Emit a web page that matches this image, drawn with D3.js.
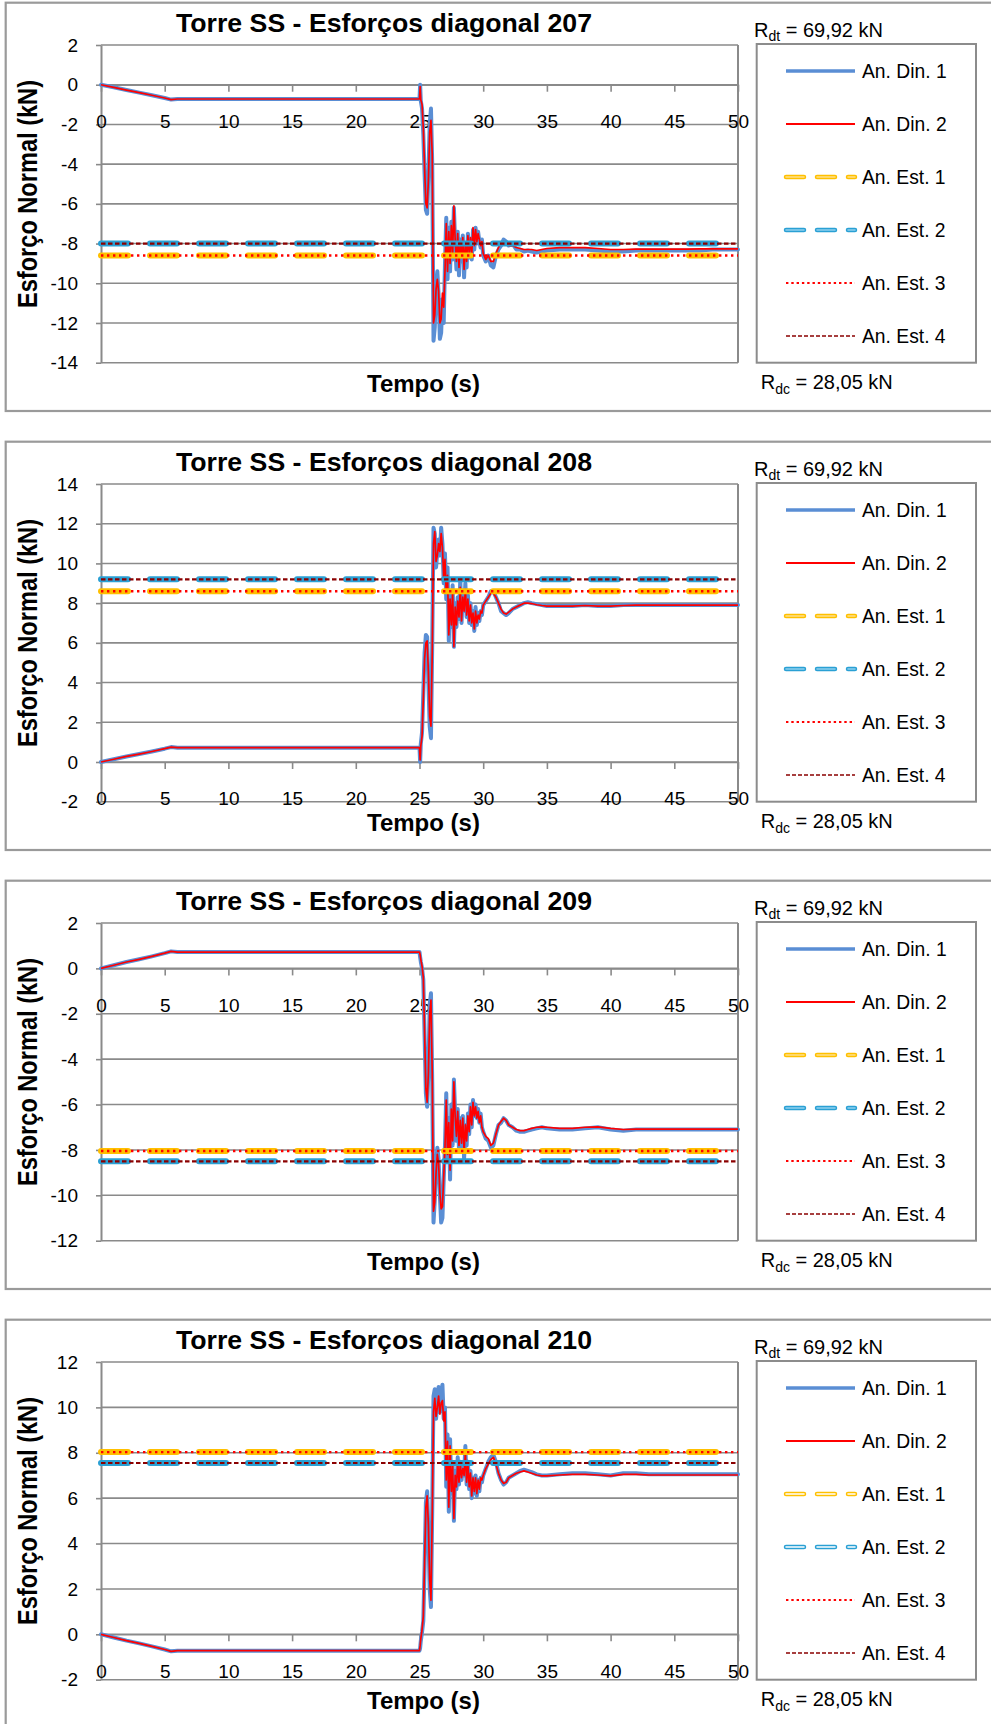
<!DOCTYPE html>
<html>
<head>
<meta charset="utf-8">
<script src="https://cdn.jsdelivr.net/npm/d3@7"></script>
<style>
  body { margin: 0; background: #fff; }
  svg { display: block; font-family: "Liberation Sans", Arial, Helvetica, sans-serif; }
</style>
</head>
<body>
<svg id="chart" width="991" height="1724"></svg>
<script>
// ---- Data -------------------------------------------------------------
const diagonais = ["207", "208", "209", "210"];
const yLimites = [[-14, 2], [-2, 14], [-12, 2], [-2, 12]];
const xTicks = [0, 5, 10, 15, 20, 25, 30, 35, 40, 45, 50];

// static analyses (kN), one value per diagonal
const anEst1 = [-8.6, 8.6, -8.05, 8.03];
const anEst2 = [-8.0, 9.2, -8.5, 7.55];
const anEst3 = [-8.6, 8.6, -8.05, 8.03];
const anEst4 = [-8.0, 9.2, -8.5, 7.55];

const legenda = ["An. Din. 1", "An. Din. 2", "An. Est. 1", "An. Est. 2", "An. Est. 3", "An. Est. 4"];
const titulos = diagonais.map(d => "Torre SS - Esforços diagonal " + d);

// time samples (s) shared by every dynamic series
const tempo = [
  0, 1, 2, 3, 4, 5, 5.5, 6, 10, 15, 20,
  24.9, 25.0, 25.05,
  25.1, 25.2, 25.3, 25.4, 25.5, 25.6, 25.7, 25.8, 25.9, 26.0,
  26.1, 26.2, 26.3, 26.4, 26.5, 26.6, 26.7, 26.8, 26.9, 27.0,
  27.1, 27.2, 27.3, 27.4, 27.5, 27.6, 27.7, 27.8, 27.9, 28.0,
  28.1, 28.2, 28.3, 28.4, 28.5, 28.6, 28.7, 28.8, 28.9, 29.0,
  29.1, 29.2, 29.3, 29.4, 29.5, 29.6, 29.7, 29.8, 29.9, 30.0,
  30.2, 30.4, 30.6, 30.8, 31.0, 31.2, 31.4, 31.6, 31.8, 32.0,
  32.3, 32.6, 32.9, 33.2, 33.5, 33.8, 34.2, 34.6,
  35, 36, 37, 38, 39, 40, 41, 42, 43, 44, 45, 46, 47, 48, 49, 50
];

// diagonal 207
const din1_207 = [
  0, -0.13, -0.27, -0.40, -0.53, -0.67, -0.75, -0.72, -0.72, -0.72, -0.72,
  -0.72, -0.72, 0.0,
  -0.8, -1.2, -2.5, -4.5, -6.3, -6.5, -4.5, -2.0, -1.2, -4.0,
  -12.9, -12.2, -10.0, -9.4, -10.6, -12.8, -12.5, -10.8, -12.0, -9.0,
  -6.7, -9.8, -7.2, -9.4, -6.9, -8.8, -6.2, -8.0, -9.3, -7.4,
  -9.6, -7.8, -8.9, -7.6, -9.7, -8.1, -9.2, -7.5, -8.7, -7.8,
  -8.8, -7.3, -8.3, -7.2, -8.0, -7.4, -7.9, -8.2, -7.8, -8.6,
  -8.9, -8.6, -9.1, -9.2, -8.6, -8.3, -8.1, -7.8, -7.9, -8.1,
  -8.0, -8.3, -8.3, -8.4, -8.35, -8.4, -8.45, -8.4,
  -8.35, -8.3, -8.3, -8.3, -8.35, -8.4, -8.4, -8.35, -8.35, -8.35, -8.35, -8.35, -8.35, -8.3, -8.3, -8.3
];
const din2_207 = [
  0, -0.13, -0.27, -0.40, -0.53, -0.67, -0.75, -0.72, -0.72, -0.72, -0.72,
  -0.72, -0.72, -0.1,
  -0.75, -1.0, -2.2, -4.2, -6.0, -6.2, -4.8, -2.4, -1.8, -3.5,
  -12.0, -11.6, -10.3, -9.8, -10.4, -12.0, -11.8, -10.5, -11.2, -9.4,
  -7.0, -9.4, -7.4, -9.0, -7.1, -8.5, -6.1, -7.8, -8.9, -7.5,
  -9.2, -7.9, -8.7, -7.7, -9.3, -8.0, -8.9, -7.6, -8.5, -7.7,
  -8.6, -7.2, -8.1, -7.3, -7.9, -7.5, -7.8, -8.1, -7.9, -8.5,
  -8.8, -8.6, -8.9, -8.9, -8.5, -8.2, -8.0, -7.9, -8.0, -8.1,
  -8.1, -8.2, -8.25, -8.3, -8.3, -8.3, -8.35, -8.3,
  -8.25, -8.2, -8.2, -8.2, -8.25, -8.3, -8.3, -8.28, -8.28, -8.28, -8.28, -8.28, -8.27, -8.27, -8.27, -8.27
];

// diagonal 208
const din1_208 = [
  0, 0.14, 0.28, 0.40, 0.53, 0.67, 0.75, 0.72, 0.72, 0.72, 0.72,
  0.72, 0.72, 0.0,
  0.9, 1.5, 3.5, 5.5, 6.4, 6.3, 4.0, 1.8, 1.2, 6.0,
  11.8, 11.5, 9.8, 10.6, 11.2, 10.4, 11.8, 11.0, 9.0, 10.5,
  8.2, 9.8, 6.1, 8.4, 6.8, 8.9, 5.8, 8.0, 6.8, 8.3,
  7.2, 9.2, 7.0, 8.5, 7.6, 9.0, 7.3, 8.4, 7.0, 8.0,
  6.9, 7.6, 6.6, 7.8, 6.9, 7.5, 7.1, 7.6, 7.4, 7.9,
  8.1, 8.3, 8.6, 8.6, 8.3, 8.0, 7.6, 7.5, 7.4, 7.5,
  7.7, 7.8, 7.9, 8.0, 8.05, 8.0, 7.95, 7.9,
  7.85, 7.85, 7.85, 7.9, 7.85, 7.85, 7.9, 7.9, 7.9, 7.9, 7.9, 7.9, 7.9, 7.9, 7.9, 7.9
];
const din2_208 = [
  0, 0.14, 0.28, 0.40, 0.53, 0.67, 0.75, 0.72, 0.72, 0.72, 0.72,
  0.72, 0.72, 0.1,
  0.8, 1.3, 3.2, 5.2, 6.0, 6.1, 4.5, 2.3, 1.8, 5.5,
  11.0, 11.6, 10.1, 10.4, 11.0, 10.6, 11.5, 10.8, 9.3, 10.2,
  8.5, 9.4, 6.4, 8.2, 6.9, 8.6, 5.8, 7.8, 6.9, 8.1,
  7.3, 8.8, 7.1, 8.3, 7.6, 8.7, 7.4, 8.2, 7.1, 7.9,
  7.0, 7.5, 6.7, 7.6, 7.0, 7.4, 7.2, 7.6, 7.5, 7.9,
  8.1, 8.3, 8.5, 8.5, 8.3, 8.0, 7.7, 7.5, 7.45, 7.55,
  7.7, 7.8, 7.9, 8.0, 8.0, 7.98, 7.92, 7.88,
  7.85, 7.85, 7.85, 7.88, 7.85, 7.85, 7.88, 7.9, 7.9, 7.9, 7.9, 7.9, 7.9, 7.9, 7.9, 7.9
];

// diagonal 209
const din1_209 = [
  0, 0.14, 0.28, 0.40, 0.53, 0.67, 0.75, 0.72, 0.72, 0.72, 0.72,
  0.72, 0.72, 0.5,
  0.3, 0.0, -0.5, -3.0, -5.5, -6.1, -4.5, -1.6, -1.1, -5.0,
  -11.2, -10.2, -8.8, -7.9, -8.4, -10.0, -11.2, -11.0, -9.3, -7.8,
  -5.5, -8.5, -6.6, -9.3, -6.0, -7.8, -4.9, -6.4, -7.6, -6.2,
  -8.0, -6.6, -7.9, -6.5, -8.4, -6.9, -7.8, -6.4, -7.3, -6.0,
  -7.0, -5.8, -6.5, -6.0, -6.6, -6.2, -6.8, -6.4, -7.0, -7.2,
  -7.5, -7.6, -7.9, -7.8, -7.3, -6.9, -6.8, -6.6, -6.7, -6.9,
  -7.0, -7.15, -7.2, -7.2, -7.15, -7.1, -7.05, -7.0,
  -7.05, -7.1, -7.1, -7.05, -7.0, -7.1, -7.15, -7.1, -7.1, -7.1, -7.1, -7.1, -7.1, -7.1, -7.1, -7.1
];
const din2_209 = [
  0, 0.14, 0.28, 0.40, 0.53, 0.67, 0.75, 0.72, 0.72, 0.72, 0.72,
  0.72, 0.72, 0.6,
  0.4, 0.1, -0.4, -2.8, -5.3, -5.9, -4.6, -2.0, -1.4, -4.6,
  -10.7, -10.3, -9.0, -8.2, -8.6, -9.9, -10.6, -10.5, -9.2, -7.9,
  -5.8, -8.2, -6.8, -8.9, -6.2, -7.6, -5.0, -6.5, -7.4, -6.3,
  -7.8, -6.7, -7.7, -6.6, -8.1, -6.9, -7.6, -6.5, -7.2, -6.1,
  -6.9, -5.9, -6.5, -6.1, -6.6, -6.3, -6.8, -6.5, -7.0, -7.2,
  -7.4, -7.5, -7.8, -7.7, -7.3, -6.9, -6.75, -6.6, -6.7, -6.9,
  -7.0, -7.1, -7.15, -7.15, -7.1, -7.05, -7.0, -6.98,
  -7.0, -7.05, -7.05, -7.0, -6.98, -7.05, -7.1, -7.08, -7.08, -7.08, -7.08, -7.08, -7.08, -7.08, -7.08, -7.08
];

// diagonal 210
const din1_210 = [
  0, -0.14, -0.28, -0.40, -0.53, -0.67, -0.75, -0.72, -0.72, -0.72, -0.72,
  -0.72, -0.72, -0.6,
  -0.3, 0.1, 0.6, 3.0, 5.8, 6.3, 4.5, 2.0, 1.2, 5.5,
  10.5, 10.8, 9.5, 10.2, 10.9, 9.8, 10.4, 11.0, 9.5, 10.0,
  6.5, 8.8, 5.4, 8.6, 6.2, 7.5, 5.0, 7.2, 6.4, 7.8,
  6.6, 7.6, 6.8, 7.4, 7.0, 8.3, 6.6, 7.6, 6.4, 7.2,
  6.0, 6.9, 6.2, 7.0, 6.1, 6.8, 6.3, 6.9, 6.7, 7.0,
  7.3, 7.6, 7.8, 7.9, 7.6, 7.1, 6.8, 6.6, 6.7, 6.9,
  7.0, 7.1, 7.2, 7.25, 7.2, 7.15, 7.05, 7.0,
  7.0, 7.05, 7.1, 7.1, 7.05, 7.0, 7.1, 7.1, 7.05, 7.05, 7.05, 7.05, 7.05, 7.05, 7.05, 7.05
];
const din2_210 = [
  0, -0.14, -0.28, -0.40, -0.53, -0.67, -0.75, -0.72, -0.72, -0.72, -0.72,
  -0.72, -0.72, -0.5,
  -0.2, 0.2, 0.8, 3.2, 5.6, 6.1, 4.8, 2.4, 1.5, 5.2,
  9.8, 10.4, 9.6, 10.0, 10.5, 9.7, 10.2, 10.3, 9.4, 9.8,
  6.8, 8.5, 5.6, 8.3, 6.3, 7.4, 5.1, 7.0, 6.5, 7.6,
  6.7, 7.5, 6.9, 7.3, 7.0, 8.0, 6.7, 7.5, 6.5, 7.1,
  6.1, 6.9, 6.3, 6.9, 6.2, 6.8, 6.4, 6.9, 6.8, 7.0,
  7.3, 7.5, 7.7, 7.8, 7.5, 7.1, 6.8, 6.65, 6.7, 6.9,
  7.0, 7.1, 7.15, 7.2, 7.15, 7.1, 7.02, 6.98,
  6.98, 7.02, 7.05, 7.05, 7.02, 6.98, 7.05, 7.05, 7.02, 7.02, 7.02, 7.02, 7.02, 7.02, 7.02, 7.02
];

const din1 = [din1_207, din1_208, din1_209, din1_210];
const din2 = [din2_207, din2_208, din2_209, din2_210];

// ---- Layout -------------------------------------------------------------
const passo = 439;                       // vertical distance between panels
const area = { left: 101, right: 738, top: 45, bottom: 362.7 };
const gridColor = "#8a8a8a";
const cores = {
  din1: "#5a8ed4", din2: "#ff0000",
  est1: "#ffc000", est2: "#2aa0d4", est3: "#ff0000", est4: "#8b0000"
};

const svg = d3.select("#chart");
const x = d3.scaleLinear().domain([0, 50]).range([area.left, area.right]);

diagonais.forEach((diag, i) => {
  const g = svg.append("g").attr("transform", `translate(0,${i * passo})`);
  const y = d3.scaleLinear().domain(yLimites[i]).range([area.bottom, area.top]);
  const yTicks = d3.range(yLimites[i][0], yLimites[i][1] + 0.001, 2);

  // outer frame of the panel
  g.append("rect")
    .attr("x", 5.7).attr("y", 2.7)
    .attr("width", 1000).attr("height", 408.3)
    .attr("fill", "none").attr("stroke", "#9a9a9a").attr("stroke-width", 2.2);

  // horizontal gridlines
  g.append("g").selectAll("line").data(yTicks).join("line")
    .attr("x1", area.left).attr("x2", area.right)
    .attr("y1", d => y(d)).attr("y2", d => y(d))
    .attr("stroke", gridColor).attr("stroke-width", 1.6);

  // right border of the plot area
  g.append("line")
    .attr("x1", area.right).attr("x2", area.right)
    .attr("y1", area.top).attr("y2", area.bottom)
    .attr("stroke", gridColor).attr("stroke-width", 2);

  // y axis
  const yAxis = g.append("g")
    .attr("transform", `translate(${area.left},0)`)
    .call(d3.axisLeft(y).tickValues(yTicks).tickSize(5).tickSizeOuter(0)
      .tickPadding(18).tickFormat(d => String(d)));
  yAxis.select(".domain").attr("stroke", gridColor).attr("stroke-width", 2);
  yAxis.selectAll(".tick line").attr("stroke", gridColor).attr("stroke-width", 1.6);
  yAxis.selectAll("text").attr("font-size", 19).attr("fill", "#000")
    .attr("font-family", "Liberation Sans, Arial, sans-serif");

  // x axis crossing at zero
  const xAxis = g.append("g")
    .attr("transform", `translate(0,${y(0)})`)
    .call(d3.axisBottom(x).tickValues(xTicks).tickSize(7).tickSizeOuter(0)
      .tickFormat(d => String(d)));
  xAxis.select(".domain").attr("stroke", gridColor).attr("stroke-width", 1.6);
  xAxis.selectAll(".tick line").attr("stroke", gridColor).attr("stroke-width", 1.6);
  xAxis.selectAll("text")
    .attr("y", 43.5).attr("dy", null)
    .attr("font-size", 19).attr("fill", "#000")
    .attr("font-family", "Liberation Sans, Arial, sans-serif");

  // dynamic analyses
  const serie1 = tempo.map((t, k) => [t, din1[i][k]]);
  const serie2 = tempo.map((t, k) => [t, din2[i][k]]);
  const linha = d3.line().x(d => x(d[0])).y(d => y(d[1]));

  g.append("path").datum(serie1).attr("d", linha)
    .attr("fill", "none").attr("stroke", cores.din1).attr("stroke-width", 4)
    .attr("stroke-linejoin", "round").attr("stroke-linecap", "round");
  g.append("path").datum(serie2).attr("d", linha)
    .attr("fill", "none").attr("stroke", cores.din2).attr("stroke-width", 1.7)
    .attr("stroke-linejoin", "round");

  // static analyses as horizontal references
  const horizontal = v => `M${area.left},${y(v)}H${area.right}`;
  g.append("path").attr("d", horizontal(anEst1[i]))
    .attr("stroke", cores.est1).attr("stroke-width", 6).attr("fill", "none")
    .attr("stroke-linecap", "round").attr("stroke-dasharray", "27,22");
  g.append("path").attr("d", horizontal(anEst2[i]))
    .attr("stroke", cores.est2).attr("stroke-width", 6).attr("fill", "none")
    .attr("stroke-linecap", "round").attr("stroke-dasharray", "27,22");
  g.append("path").attr("d", horizontal(anEst3[i]))
    .attr("stroke", cores.est3).attr("stroke-width", 2.4).attr("fill", "none")
    .attr("stroke-dasharray", "2.4,3.6");
  g.append("path").attr("d", horizontal(anEst4[i]))
    .attr("stroke", cores.est4).attr("stroke-width", 2.2).attr("fill", "none")
    .attr("stroke-dasharray", "4.5,2.5");

  // titles
  g.append("text")
    .attr("x", 176).attr("y", 32)
    .attr("font-size", 25).attr("font-weight", "bold")
    .attr("textLength", 416).attr("lengthAdjust", "spacingAndGlyphs")
    .text(titulos[i]);

  g.append("text")
    .attr("x", 423.5).attr("y", 392)
    .attr("text-anchor", "middle")
    .attr("font-size", 24).attr("font-weight", "bold")
    .text("Tempo (s)");

  g.append("text")
    .attr("transform", "translate(37,194) rotate(-90)")
    .attr("text-anchor", "middle")
    .attr("font-size", 27).attr("font-weight", "bold")
    .attr("textLength", 228).attr("lengthAdjust", "spacingAndGlyphs")
    .text("Esforço Normal (kN)");

  // resistance annotations
  const rdt = g.append("text").attr("x", 754).attr("y", 36.7).attr("font-size", 20);
  rdt.append("tspan").text("R");
  rdt.append("tspan").attr("font-size", 14).attr("dy", 4.5).text("dt");
  rdt.append("tspan").attr("dy", -4.5).text(" = 69,92 kN");

  const rdc = g.append("text").attr("x", 760.7).attr("y", 389).attr("font-size", 20);
  rdc.append("tspan").text("R");
  rdc.append("tspan").attr("font-size", 14).attr("dy", 4.5).text("dc");
  rdc.append("tspan").attr("dy", -4.5).text(" = 28,05 kN");

  // legend
  const leg = g.append("g");
  leg.append("rect")
    .attr("x", 756.7).attr("y", 44).attr("width", 219.3).attr("height", 318.7)
    .attr("fill", "#fff").attr("stroke", "#8c8c8c").attr("stroke-width", 2);

  const interno = i === 3 ? ["#ffffff", "#ffffff"] : ["#ffe08a", "#8fd0ee"];
  const estilos = [
    [{ c: cores.din1, w: 3.6 }],
    [{ c: cores.din2, w: 1.8 }],
    [{ c: cores.est1, w: 4.5, dash: "18,13", cap: "round" }, { c: interno[0], w: 1.6, dash: "18,13", cap: "round" }],
    [{ c: cores.est2, w: 4.5, dash: "18,13", cap: "round" }, { c: interno[1], w: 1.6, dash: "18,13", cap: "round" }],
    [{ c: cores.est3, w: 2.2, dash: "2.4,2.9" }],
    [{ c: cores.est4, w: 1.6, dash: "4,2" }]
  ];
  legenda.forEach((nome, k) => {
    const ly = 71 + k * 53;
    estilos[k].forEach(s => {
      leg.append("path").attr("d", `M786,${ly}H855`)
        .attr("fill", "none").attr("stroke", s.c).attr("stroke-width", s.w)
        .attr("stroke-dasharray", s.dash || null)
        .attr("stroke-linecap", s.cap || "butt");
    });
    leg.append("text").attr("x", 862).attr("y", ly + 6.8)
      .attr("font-size", 19.3).text(nome);
  });
});
</script>
</body>
</html>
